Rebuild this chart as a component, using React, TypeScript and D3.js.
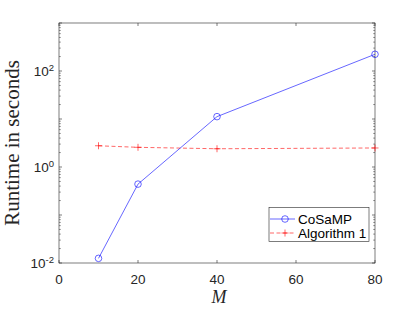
import React from "react";
import * as d3 from "d3";

const mValues = [10, 20, 40, 80];
const cosampRuntime = [0.0125, 0.44, 11.2, 223];
const algorithm1Runtime = [2.77, 2.57, 2.4, 2.49];
const xTicks = [0, 20, 40, 60, 80];
const yTickExps = [-2, 0, 2];

const W = 415, H = 312;
const L = 59, R = 375, T = 23, B = 263;

export default function App() {
  const x = d3.scaleLinear().domain([0, 80]).range([L, R]);
  const y = d3.scaleLog().domain([1e-2, 1e3]).range([B, T]);
  const axisColor = "#262626";
  const font = "'Liberation Sans', Arial, sans-serif";
  const serif = "'Liberation Serif', 'Times New Roman', serif";

  const minor: number[] = [];
  for (let e = -2; e < 3; e++) {
    for (let k = 2; k <= 9; k++) minor.push(k * Math.pow(10, e));
  }
  const major = [-2, -1, 0, 1, 2, 3].map((e) => Math.pow(10, e));

  const line = d3
    .line<number>()
    .x((_, i) => x(mValues[i]))
    .y((d) => y(d));

  return (
    <svg width={W} height={H} style={{ position: "absolute", left: 0, top: 0 }}>
      <rect x={0} y={0} width={W} height={H} fill="#fff" />
      {xTicks.map((t) => (
        <g key={"xt" + t}>
          <line x1={x(t)} x2={x(t)} y1={B} y2={B - 3} stroke={axisColor} strokeWidth={0.6} />
          <line x1={x(t)} x2={x(t)} y1={T} y2={T + 3} stroke={axisColor} strokeWidth={0.6} />
          <text x={x(t)} y={284} textAnchor="middle" fontFamily={font} fontSize={13.5} fill={axisColor}>
            {t}
          </text>
        </g>
      ))}
      {major.map((v, i) => (
        <g key={"ym" + i}>
          <line x1={L} x2={L + 3} y1={y(v)} y2={y(v)} stroke={axisColor} strokeWidth={0.6} />
          <line x1={R} x2={R - 3} y1={y(v)} y2={y(v)} stroke={axisColor} strokeWidth={0.6} />
        </g>
      ))}
      {minor.map((v, i) => (
        <g key={"yn" + i}>
          <line x1={L} x2={L + 1.8} y1={y(v)} y2={y(v)} stroke={axisColor} strokeWidth={0.5} />
          <line x1={R} x2={R - 1.8} y1={y(v)} y2={y(v)} stroke={axisColor} strokeWidth={0.5} />
        </g>
      ))}
      {yTickExps.map((e) => (
        <text key={"yl" + e} x={54} y={y(Math.pow(10, e)) + 5} textAnchor="end" fontFamily={font} fontSize={13.5} fill={axisColor}>
          10<tspan dy={-5.5} fontSize={9.5}>{e}</tspan>
        </text>
      ))}
      <rect x={L} y={T} width={R - L} height={B - T} fill="none" stroke={axisColor} strokeWidth={0.6} />

      <path d={line(algorithm1Runtime) || ""} fill="none" stroke="#ff0000" strokeWidth={0.6} strokeDasharray="4,2.5" />
      {algorithm1Runtime.map((v, i) => (
        <path
          key={"a" + i}
          d={`M${x(mValues[i]) - 3.5},${y(v)}h7M${x(mValues[i])},${y(v) - 3.5}v7`}
          stroke="#ff0000"
          strokeWidth={0.6}
        />
      ))}
      <path d={line(cosampRuntime) || ""} fill="none" stroke="#0000ff" strokeWidth={0.6} />
      {cosampRuntime.map((v, i) => (
        <circle key={"c" + i} cx={x(mValues[i])} cy={y(v)} r={3.3} fill="none" stroke="#0000ff" strokeWidth={0.6} />
      ))}

      <text x={x(40) + 2} y={303} textAnchor="middle" fontFamily={serif} fontStyle="italic" fontSize={18} fill={axisColor}>
        M
      </text>
      <text
        transform={`translate(18.5,${(T + B) / 2}) rotate(-90)`}
        textAnchor="middle"
        fontFamily={serif}
        fontSize={21}
        fill={axisColor}
      >
        Runtime in seconds
      </text>

      <rect x={269} y={207.5} width={100} height={34} fill="#fff" stroke={axisColor} strokeWidth={0.6} />
      <line x1={270} x2={295} y1={219} y2={219} stroke="#0000ff" strokeWidth={0.6} />
      <circle cx={285} cy={219} r={3.3} fill="none" stroke="#0000ff" strokeWidth={0.6} />
      <text x={298} y={224} fontFamily={font} fontSize={13.5} fill="#000">CoSaMP</text>
      <line x1={270} x2={295} y1={233} y2={233} stroke="#ff0000" strokeWidth={0.6} strokeDasharray="4,2.5" />
      <path d="M281.5,233h7M285,229.5v7" stroke="#ff0000" strokeWidth={0.6} />
      <text x={298} y={238} fontFamily={font} fontSize={13.5} fill="#000">Algorithm 1</text>
    </svg>
  );
}
